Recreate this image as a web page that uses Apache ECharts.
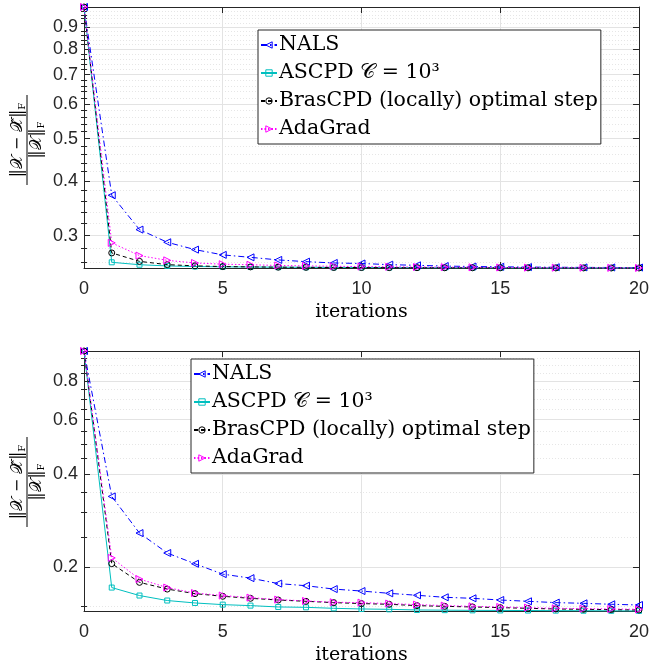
<!DOCTYPE html>
<html><head><meta charset="utf-8">
<script src="https://cdn.jsdelivr.net/npm/echarts@6/dist/echarts.min.js"></script>
<style>html,body{margin:0;padding:0;background:#fff}#c{width:652px;height:666px}</style>
</head><body><div id="c"></div>
<script>
// ---------- data ----------
const iterations = [0,1,2,3,4,5,6,7,8,9,10,11,12,13,14,15,16,17,18,19,20];
const seriesNames = ['NALS', 'ASCPD 𝒞 = 10³', 'BrasCPD (locally) optimal step', 'AdaGrad'];

const topNALS    = [1.0,0.371,0.3096,0.2896,0.2786,0.2710,0.2675,0.2639,0.2615,0.2597,0.2590,0.2574,0.2565,0.2555,0.2549,0.2545,0.2541,0.2539,0.2537,0.2536,0.2535];
const topASCPD   = [1.0,0.2606,0.2573,0.2557,0.2549,0.2545,0.2542,0.2540,0.2538,0.2537,0.2536,0.2535,0.2534,0.2533,0.2533,0.2532,0.2532,0.2531,0.2531,0.2530,0.2530];
const topBrasCPD = [1.0,0.2738,0.2619,0.2574,0.2558,0.2548,0.2544,0.2540,0.2538,0.2536,0.2535,0.2534,0.2533,0.2532,0.2532,0.2531,0.2531,0.2530,0.2530,0.2529,0.2529];
const topAdaGrad = [1.0,0.2887,0.2700,0.2633,0.2597,0.2580,0.2573,0.2563,0.2557,0.2552,0.2548,0.2545,0.2542,0.2540,0.2538,0.2536,0.2534,0.2533,0.2532,0.2531,0.2530];

const botNALS    = [1.0,0.3386,0.2578,0.2222,0.2051,0.1899,0.1843,0.1770,0.1742,0.1699,0.1674,0.1646,0.1622,0.1598,0.1586,0.1566,0.1551,0.1536,0.1528,0.1517,0.1509];
const botASCPD   = [1.0,0.1718,0.1619,0.1560,0.1532,0.1513,0.1502,0.1487,0.1483,0.1472,0.1465,0.1461,0.1454,0.1452,0.1450,0.1449,0.1448,0.1447,0.1446,0.1445,0.1444];
const botBrasCPD = [1.0,0.2053,0.1786,0.1699,0.1642,0.1610,0.1586,0.1566,0.1551,0.1536,0.1525,0.1517,0.1502,0.1494,0.1487,0.1480,0.1472,0.1465,0.1461,0.1458,0.1454];
const botAdaGrad = [1.0,0.2143,0.1830,0.1718,0.1649,0.1619,0.1594,0.1571,0.1555,0.1540,0.1536,0.1525,0.1513,0.1502,0.1494,0.1487,0.1480,0.1472,0.1469,0.1465,0.1461];

const topRange = [0.2529, 1.0];
const botRange = [0.1443, 1.0];
const topMajorTicks = [0.3,0.4,0.5,0.6,0.7,0.8,0.9];
const topMinorTicks = [0.26,0.28,0.32,0.34,0.36,0.38,0.42,0.44,0.46,0.48,0.52,0.54,0.56,0.58,0.62,0.64,0.66,0.68,0.72,0.74,0.76,0.78,0.82,0.84,0.86,0.88,0.92,0.94,0.96,0.98];
const botMajorTicks = [0.2,0.4,0.6,0.8];
const botMinorTicks = [0.15,0.25,0.3,0.35,0.45,0.5,0.55,0.65,0.7,0.75,0.85,0.9,0.95];

// ---------- build ----------
const L = Math.log10;
const axisColor = '#262626';
const sansFont = 'Liberation Sans, Arial, sans-serif';
const serifFont = 'DejaVu Serif, Liberation Serif, serif';

const styles = [
  {color:'#0000ff', type:[6,3,1.5,3], symbol:'triangle', rotate:90, size:7},
  {color:'#00bfbf', type:'solid', symbol:'rect', rotate:0, size:5},
  {color:'#000000', type:[4,3], symbol:'circle', rotate:0, size:6},
  {color:'#ff00ff', type:[1.5,2], symbol:'triangle', rotate:-90, size:7}
];

const grids = [
  {left:84, top:7, width:557, height:261},
  {left:84, top:351, width:557, height:262}
];

const xAxes = [], yAxes = [];
[0,1].forEach(g => {
  xAxes.push({type:'value', gridIndex:g, position:'bottom', min:0, max:20, interval:5,
    axisLine:{show:true, onZero:false, lineStyle:{color:axisColor, width:1}},
    axisTick:{inside:true, length:6, lineStyle:{color:axisColor}},
    axisLabel:{color:axisColor, fontFamily:sansFont, fontSize:18, margin:12},
    splitLine:{show:true, lineStyle:{color:'#e3e3e3', width:1}},
    name:'iterations', nameLocation:'middle', nameGap:35,
    nameTextStyle:{fontFamily:serifFont, fontSize:19, color:'#000'}
  });
  xAxes.push({type:'value', gridIndex:g, position:'top', min:0, max:20, interval:5,
    axisLine:{show:true, onZero:false, lineStyle:{color:axisColor, width:1}},
    axisTick:{inside:true, length:6, lineStyle:{color:axisColor}},
    axisLabel:{show:false}, splitLine:{show:false}
  });
  const rng = g === 0 ? topRange : botRange;
  const maj = (g === 0 ? topMajorTicks : botMajorTicks).map(L);
  const mnr = (g === 0 ? topMinorTicks : botMinorTicks).map(L);
  const base = {type:'value', gridIndex:g, min:L(rng[0]), max:L(rng[1]), scale:true};
  yAxes.push(Object.assign({}, base, {position:'left',
    axisLine:{show:true, onZero:false, lineStyle:{color:axisColor, width:1}},
    axisTick:{show:true, inside:true, length:6, customValues:maj, lineStyle:{color:axisColor}},
    axisLabel:{show:true, customValues:maj, color:axisColor, fontFamily:sansFont, fontSize:18, margin:6,
      formatter: v => (Math.round(Math.pow(10, v) * 10) / 10).toFixed(1)},
    splitLine:{show:true, lineStyle:{color:'#e3e3e3', width:1}}
  }));
  yAxes.push(Object.assign({}, base, {position:'left',
    axisLine:{show:false},
    axisTick:{show:true, inside:true, length:3, customValues:mnr, lineStyle:{color:axisColor}},
    axisLabel:{show:false},
    splitLine:{show:true, lineStyle:{color:'#e6e6e6', width:1, type:[1,2]}}
  }));
  yAxes.push(Object.assign({}, base, {position:'right',
    axisLine:{show:true, onZero:false, lineStyle:{color:axisColor, width:1}},
    axisTick:{show:true, inside:true, length:6, customValues:maj, lineStyle:{color:axisColor}},
    axisLabel:{show:false}, splitLine:{show:false}
  }));
  yAxes.push(Object.assign({}, base, {position:'right',
    axisLine:{show:false},
    axisTick:{show:true, inside:true, length:3, customValues:mnr, lineStyle:{color:axisColor}},
    axisLabel:{show:false}, splitLine:{show:false}
  }));
});

const topSets = [topNALS, topASCPD, topBrasCPD, topAdaGrad];
const botSets = [botNALS, botASCPD, botBrasCPD, botAdaGrad];
const series = [];
[topSets, botSets].forEach((sets, g) => {
  sets.forEach((vals, i) => {
    const s = styles[i];
    series.push({
      type:'line', name:seriesNames[i], xAxisIndex:g*2, yAxisIndex:g*4,
      data: iterations.map((x, k) => [x, L(vals[k])]),
      symbol:s.symbol, symbolSize:s.size, symbolRotate:s.rotate, showAllSymbol:true,
      lineStyle:{color:s.color, width:1, type:s.type},
      itemStyle:{color:'rgba(255,255,255,0)', borderColor:s.color, borderWidth:1},
      emphasis:{disabled:true}, animation:false, clip:false
    });
  });
});

function legendAt(left, top) {
  return {data:seriesNames.map((n, i) => ({name:n, itemStyle:{color:'rgba(255,255,255,0)', borderColor:styles[i].color, borderWidth:1}})),
    orient:'vertical', left:left, top:top,
    backgroundColor:'#fff', borderColor:'#262626', borderWidth:1,
    padding:[1,3,1,2], itemGap:0, itemWidth:16, itemHeight:8,
    textStyle:{fontFamily:serifFont, fontSize:20.5, color:'#000', lineHeight:28, padding:[0,0,0,-3]},
    selectedMode:false};
}

function yLabel(cx, cy) {
  const rich = {n:{fontFamily:serifFont, fontSize:16, fill:'#000'}, s:{fontFamily:serifFont, fontSize:10, fill:'#000', padding:[8,0,0,0]}};
  return {type:'group', x:cx, y:cy, rotation:Math.PI/2, children:[
    {type:'text', x:0, y:-9, style:{text:'{n|‖𝒳 − 𝒳̂‖}{s|F}', align:'center', verticalAlign:'middle', rich:rich}},
    {type:'line', shape:{x1:-45, y1:0, x2:45, y2:0}, style:{stroke:'#000', lineWidth:1}},
    {type:'text', x:0, y:10, style:{text:'{n|‖𝒳‖}{s|F}', align:'center', verticalAlign:'middle', rich:rich}}
  ]};
}

const chart = echarts.init(document.getElementById('c'), null, {renderer:'canvas'});
chart.setOption({
  animation:false,
  backgroundColor:'#fff',
  grid:grids, xAxis:xAxes, yAxis:yAxes, series:series,
  legend:[legendAt(258, 30), legendAt(191, 359)],
  graphic:[yLabel(27, 140), yLabel(27, 482)]
});
</script></body></html>
